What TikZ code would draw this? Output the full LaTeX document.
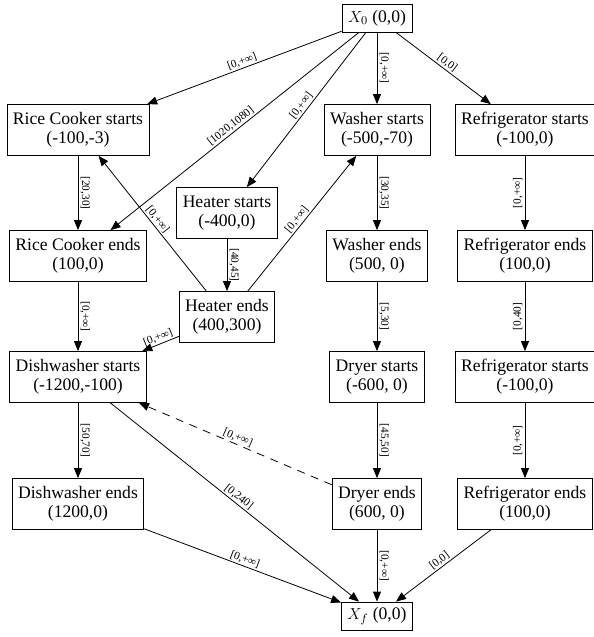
\documentclass[tikz,border=0pt]{standalone}
\usepackage{fontspec}
\setmainfont{Liberation Serif}
\usetikzlibrary{arrows.meta}
\usetikzlibrary{positioning}

\begin{document}
\begin{tikzpicture}[node distance=94.5pt, on grid,
    event/.style={draw, rectangle, align=center, inner xsep=4.5pt, minimum height=38.25pt,
      line width=0.6pt, font=\fontsize{13.2}{14.5}\selectfont},
    term/.style={event, minimum height=21pt},
    lbl/.style={font=\fontsize{8.5}{9}\selectfont, sloped, above, inner sep=1pt},
    vdown/.style={font=\fontsize{8.5}{9}\selectfont, rotate=-90, anchor=south, inner sep=1.5pt},
    vup/.style={font=\fontsize{8.5}{9}\selectfont, rotate=90, anchor=south, inner sep=1.5pt},
    every edge/.style={draw, line width=0.6pt, -{Triangle[length=7.5pt,width=6pt]}}]
        \useasboundingbox (-282.75pt,13.5pt) rectangle (162.75pt,-464.25pt);

        \node[term] (x0) {\(X_0\) (0,0)};
        \node[event, below=84pt of x0] (ws) {Washer starts\\(-500,-70)};
        \node[event, left=224.25pt of ws] (rcs) {Rice Cooker starts\\(-100,-3)};
        \node[event, right=111pt of ws] (rfs) {Refrigerator starts\\(-100,0)};
        \node[event, below right=62.25pt and 111.75pt of rcs] (hs) {Heater starts\\(-400,0)};
        \node[event, below=of rcs] (rce) {Rice Cooker ends\\(100,0)};
        \node[event, below=of ws] (we) {Washer ends\\(500, 0)};
        \node[event, below=of rfs] (rfe) {Refrigerator ends\\(100,0)};
        \node[event, below=78pt of hs] (he) {Heater ends\\(400,300)};
        \node[event, below=90.75pt of rce] (ds) {Dishwasher starts\\(-1200,-100)};
        \node[event, below=90.75pt of we] (dys) {Dryer starts\\(-600, 0)};
        \node[event, below=90.75pt of rfe] (rfs2) {Refrigerator starts\\(-100,0)};
        \node[event, below=95.25pt of ds] (de) {Dishwasher ends\\(1200,0)};
        \node[event, below=95.25pt of dys] (dye) {Dryer ends\\(600, 0)};
        \node[event, below=95.25pt of rfs2] (rfe2) {Refrigerator ends\\(100,0)};
        \node[term, below=84pt of dye] (xf) {\(X_f\) (0,0)};

        \draw
        (x0) edge node[lbl] {[0,+∞]} (rcs)
        (x0) edge node[lbl] {[1020,1080]} (rce)
        (x0) edge node[lbl] {[0,+∞]} (hs)
        (x0) edge node[vdown] {[0,+∞]} (ws)
        (x0) edge node[lbl] {[0,0]} (rfs)
        (rcs) edge node[vdown] {[20,30]} (rce)
        (hs) edge node[vdown] {[40,45]} (he)
        (he) edge node[lbl] {[0,+∞]} (rcs)
        (he) edge node[lbl] {[0,+∞]} (ws)
        (he) edge node[lbl] {[0,+∞]} (ds)
        (rce) edge node[vdown] {[0,+∞]} (ds)
        (ws) edge node[vdown] {[30,35]} (we)
        (we) edge node[vdown] {[5,30]} (dys)
        (dys) edge node[vdown] {[45,50]} (dye)
        (dye) edge[dash pattern=on 6pt off 5pt] node[lbl] {[0,+∞]} (ds)
        (ds) edge node[vdown] {[50,70]} (de)
        (ds) edge node[lbl] {[0,240]} (xf)
        (de) edge node[lbl] {[0,+∞]} (xf)
        (dye) edge node[vdown] {[0,+∞]} (xf)
        (rfs) edge node[vup] {[0,+∞]} (rfe)
        (rfe) edge node[vup] {[0,40]} (rfs2)
        (rfs2) edge node[vup] {[0,+∞]} (rfe2)
        (rfe2) edge node[lbl] {[0,0]} (xf);
      \end{tikzpicture}
\end{document}
